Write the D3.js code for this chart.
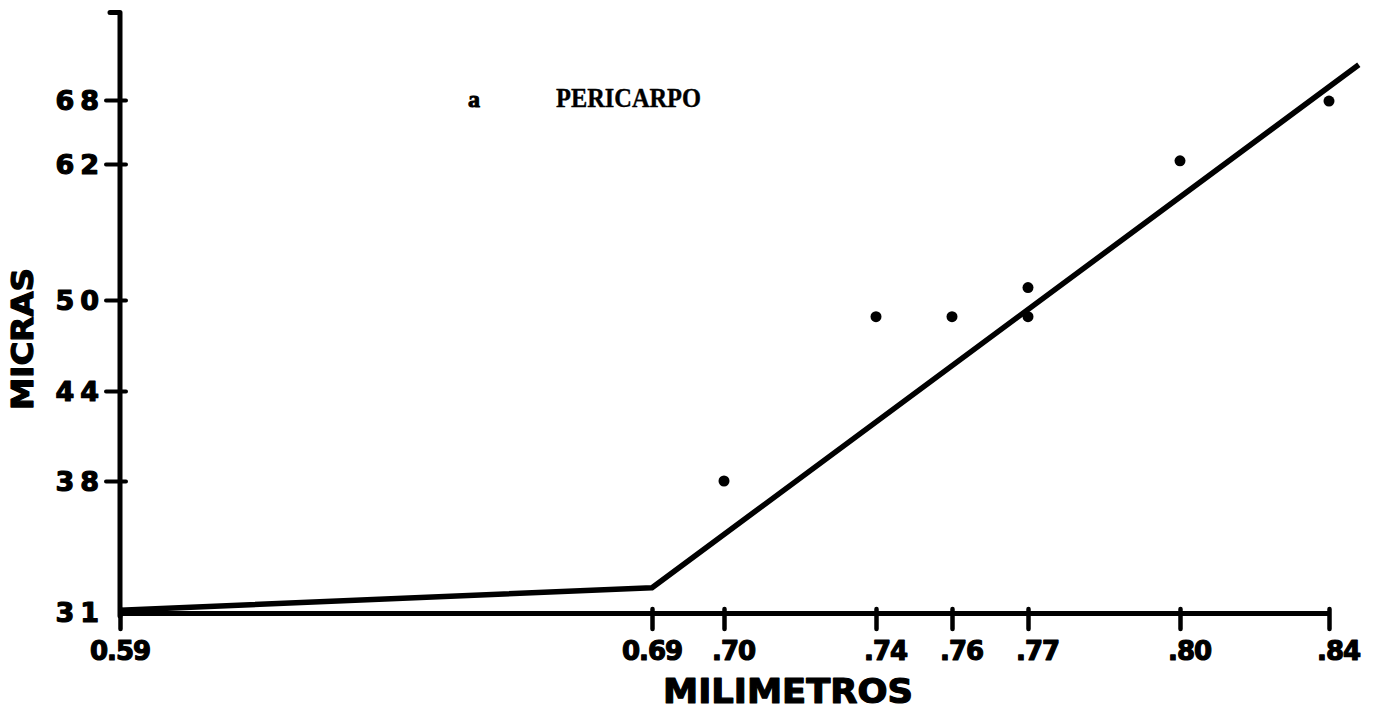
<!DOCTYPE html>
<html>
<head>
<meta charset="utf-8">
<script src="https://cdn.jsdelivr.net/npm/d3@7"></script>
<style>
  body { margin: 0; background: #fff; }
  svg { display: block; }
</style>
</head>
<body>
<div id="chart"></div>
<script>
const width = 1376,
    height = 710;

// x axis ticks (mm) - the original axis is hand-spaced, not linear
const xTicks = [0.59, 0.69, 0.70, 0.74, 0.76, 0.77, 0.80, 0.84];
const xTickLabels = ["0.59", "0.69", ".70", ".74", ".76", ".77", ".80", ".84"];

// y axis ticks (micras)
const yTicks = [31, 38, 44, 50, 62, 68];
const yTickLabels = ["31", "38", "44", "50", "62", "68"];

// measured points
const sampleX = [0.70, 0.74, 0.76, 0.77, 0.77, 0.80, 0.84];
const sampleY = [38.0, 48.9, 48.9, 51.1, 48.9, 62.3, 67.9];

// fitted line
const fitX = [0.59, 0.69, 0.848];
const fitY = [31.1, 32.3, 71.3];

const yAxisTop = 76.2;

const svg = d3.select("#chart")
    .append("svg")
    .attr("width", width)
    .attr("height", height);

const x = d3.scaleLinear()
    .domain(xTicks)
    .range([120, 652, 724, 876, 952, 1028, 1180, 1329]);

const y = d3.scaleLinear()
    .domain(yTicks)
    .range([612, 481, 391, 300, 164, 100]);

const labelFont = "DejaVu Sans, Arial, sans-serif";

// heavy lettering, like the ink stencil of the original
function inked(sel, w) {
    return sel.style("fill", "#000").style("stroke", "#000").style("stroke-width", w + "px")
        .style("stroke-linejoin", "round");
}

// X axis
const xAxis = svg.append("g")
    .attr("transform", `translate(0,${y(31) + 1})`)
    .call(d3.axisBottom(x).tickValues(xTicks).tickSizeOuter(0).tickSizeInner(16).tickFormat(""));

xAxis.select(".domain").attr("stroke", "#000").attr("stroke-width", 5);
xAxis.selectAll(".tick line")
    .attr("stroke", "#000")
    .attr("stroke-width", 4.5)
    .attr("stroke-linecap", "round")
    .attr("y1", -4);

svg.append("g").selectAll("text")
    .data(xTicks)
    .enter().append("text")
    .attr("x", (d, i) => xTickLabels[i].startsWith(".") ? x(d) - 12 : x(d))
    .attr("y", 660)
    .attr("text-anchor", (d, i) => xTickLabels[i].startsWith(".") ? "start" : "middle")
    .style("font-family", labelFont)
    .style("font-weight", "bold")
    .style("font-size", "26px")
    .style("letter-spacing", "-1px")
    .call(inked, 1.2)
    .text((d, i) => xTickLabels[i]);

// Y axis (drawn as one path so it can run above the last tick, with the little hook on top)
const x0 = x(0.59);
svg.append("path")
    .attr("d", `M${x0 - 10},${y(yAxisTop)}H${x0}V${y(31) + 4}`)
    .attr("fill", "none")
    .attr("stroke", "#000")
    .attr("stroke-width", 5)
    .attr("stroke-linejoin", "round")
    .attr("stroke-linecap", "round");

const yAxis = svg.append("g")
    .attr("transform", `translate(${x0},0)`)
    .call(d3.axisLeft(y).tickValues(yTicks.slice(1)).tickSizeOuter(0).tickSizeInner(14).tickFormat(""));

yAxis.select(".domain").remove();
yAxis.selectAll(".tick line")
    .attr("stroke", "#000")
    .attr("stroke-width", 4)
    .attr("stroke-linecap", "round")
    .attr("x1", 6);

svg.append("g").selectAll("text")
    .data(yTicks)
    .enter().append("text")
    .attr("x", 105)
    .attr("y", d => y(d))
    .attr("dy", "0.36em")
    .attr("text-anchor", "end")
    .style("font-family", labelFont)
    .style("font-weight", "bold")
    .style("font-size", "27px")
    .style("letter-spacing", "6px")
    .call(inked, 1.2)
    .text((d, i) => yTickLabels[i]);

// axis titles
svg.append("text")
    .attr("x", 663)
    .attr("y", 703)
    .attr("textLength", 250)
    .attr("lengthAdjust", "spacingAndGlyphs")
    .style("font-family", labelFont)
    .style("font-weight", "bold")
    .style("font-size", "33px")
    .call(inked, 1.2)
    .text("MILIMETROS");

svg.append("text")
    .attr("transform", "translate(33,410) rotate(-90)")
    .attr("textLength", 142)
    .attr("lengthAdjust", "spacingAndGlyphs")
    .style("font-family", labelFont)
    .style("font-weight", "bold")
    .style("font-size", "31px")
    .call(inked, 1.2)
    .text("MICRAS");

// panel label (typewritten)
svg.append("text")
    .attr("x", 468)
    .attr("y", 107)
    .style("font-family", "Liberation Serif, DejaVu Serif, serif")
    .style("font-weight", "bold")
    .style("font-size", "24px")
    .call(inked, 1)
    .text("a");

svg.append("text")
    .attr("x", 556)
    .attr("y", 107)
    .attr("textLength", 145)
    .attr("lengthAdjust", "spacingAndGlyphs")
    .style("font-family", "Liberation Serif, DejaVu Serif, serif")
    .style("font-weight", "bold")
    .style("font-size", "27px")
    .call(inked, 0.4)
    .text("PERICARPO");

// fitted line
const line = d3.line()
    .x(d => x(d[0]))
    .y(d => y(d[1]));

svg.append("path")
    .datum(fitX.map((d, i) => [d, fitY[i]]))
    .attr("d", line)
    .attr("fill", "none")
    .attr("stroke", "#000")
    .attr("stroke-width", 5.5)
    .attr("stroke-linejoin", "round");

// points
svg.append("g").selectAll("circle")
    .data(sampleX.map((d, i) => [d, sampleY[i]]))
    .enter().append("circle")
    .attr("cx", d => x(d[0]))
    .attr("cy", d => y(d[1]))
    .attr("r", 5.5)
    .attr("fill", "#000");
</script>
</body>
</html>
